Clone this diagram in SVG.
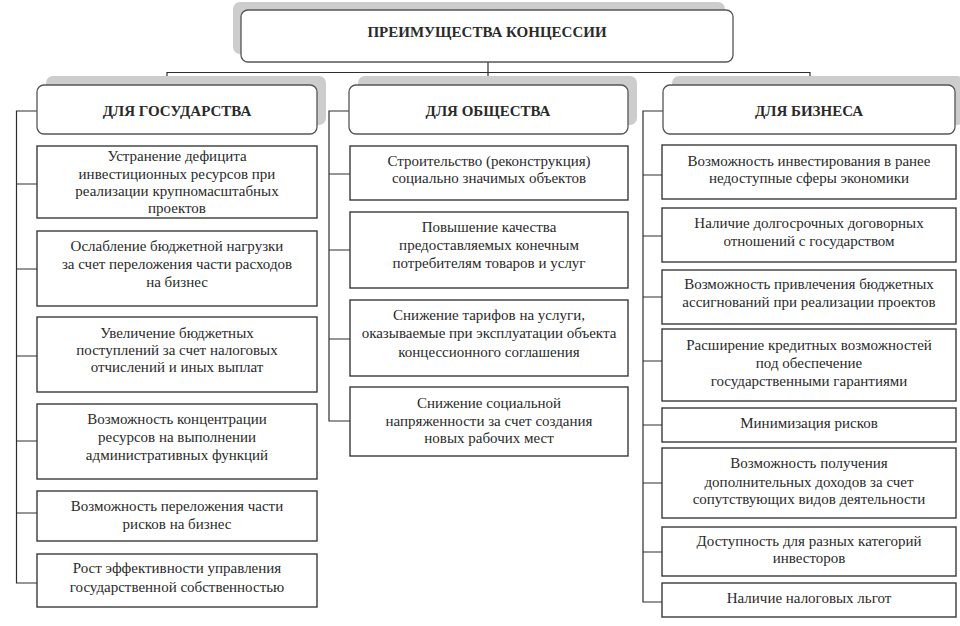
<svg xmlns="http://www.w3.org/2000/svg" width="960" height="626" viewBox="0 0 960 626">
<style>
.shadow{fill:#cdcdcd;}
.hdr{fill:#ffffff;stroke:#555555;stroke-width:1.3;}
.box{fill:#ffffff;stroke:#3a3a3a;stroke-width:1.4;}
.conn{fill:none;stroke:#2e2e2e;stroke-width:1.2;}
text{font-family:"Liberation Serif","Times New Roman",serif;fill:#2a2a2a;text-anchor:middle;}
.t{font-size:15px;}
.h{font-size:15px;font-weight:bold;}
</style>
<rect width="960" height="626" fill="#ffffff"/>
<g id="connectors" class="conn">
<path d="M488,62 V85"/>
<path d="M167,85 V72.5 H810 V85"/>
<path d="M37,111 H16.5 V583 H37 M16.5,184 H37 M16.5,269 H37 M16.5,356 H37 M16.5,441 H37 M16.5,513 H37"/>
<path d="M349,111 H329 V421 H350 M329,174 H350 M329,250 H350 M329,339 H350"/>
<path d="M663,111 H643 V602 H662 M643,175 H662 M643,236 H662 M643,297 H662 M643,361 H662 M643,425 H662 M643,483 H662 M643,552 H662"/>
</g>
<g id="root">
<rect class="shadow" x="233" y="2" width="492" height="52" rx="7"/>
<rect class="hdr" x="241" y="10" width="492" height="52" rx="7"/>
<text class="h" x="487" y="37">ПРЕИМУЩЕСТВА КОНЦЕССИИ</text>
</g>
<g id="h_state">
<rect class="shadow" x="46" y="76" width="280" height="49" rx="7"/>
<rect class="hdr" x="37" y="85" width="280" height="49" rx="7"/>
<text class="h" x="177" y="116">ДЛЯ ГОСУДАРСТВА</text>
</g>
<g id="h_society">
<rect class="shadow" x="358" y="76" width="279" height="49" rx="7"/>
<rect class="hdr" x="349" y="85" width="279" height="49" rx="7"/>
<text class="h" x="488" y="116">ДЛЯ ОБЩЕСТВА</text>
</g>
<g id="h_business">
<rect class="shadow" x="672" y="76" width="292" height="49" rx="7"/>
<rect class="hdr" x="663" y="85" width="292" height="49" rx="7"/>
<text class="h" x="809" y="116">ДЛЯ БИЗНЕСА</text>
</g>
<g id="s1"><rect class="box" x="37" y="146" width="280" height="72"/>
<text class="t" x="177" y="161">Устранение дефицита</text><text class="t" x="177" y="178.5">инвестиционных ресурсов при</text><text class="t" x="177" y="196">реализации крупномасштабных</text><text class="t" x="177" y="213">проектов</text></g>
<g id="s2"><rect class="box" x="37" y="231" width="280" height="75"/>
<text class="t" x="177" y="251">Ослабление бюджетной нагрузки</text><text class="t" x="177" y="269">за счет переложения части расходов</text><text class="t" x="177" y="287">на бизнес</text></g>
<g id="s3"><rect class="box" x="37" y="317" width="280" height="75"/>
<text class="t" x="177" y="338">Увеличение бюджетных</text><text class="t" x="177" y="355">поступлений за счет налоговых</text><text class="t" x="177" y="372">отчислений и иных выплат</text></g>
<g id="s4"><rect class="box" x="37" y="404" width="280" height="75"/>
<text class="t" x="177" y="424">Возможность концентрации</text><text class="t" x="177" y="442">ресурсов на выполнении</text><text class="t" x="177" y="460">административных функций</text></g>
<g id="s5"><rect class="box" x="37" y="491" width="280" height="50"/>
<text class="t" x="177" y="511">Возможность переложения части</text><text class="t" x="177" y="529">рисков на бизнес</text></g>
<g id="s6"><rect class="box" x="37" y="554" width="280" height="53"/>
<text class="t" x="177" y="573">Рост эффективности управления</text><text class="t" x="177" y="592">государственной собственностью</text></g>
<g id="o1"><rect class="box" x="350" y="146" width="278" height="54"/>
<text class="t" x="489" y="166">Строительство (реконструкция)</text><text class="t" x="489" y="183">социально значимых объектов</text></g>
<g id="o2"><rect class="box" x="350" y="212" width="278" height="76"/>
<text class="t" x="489" y="232">Повышение качества</text><text class="t" x="489" y="250">предоставляемых конечным</text><text class="t" x="489" y="268">потребителям товаров и услуг</text></g>
<g id="o3"><rect class="box" x="350" y="300" width="278" height="76"/>
<text class="t" x="489" y="320">Снижение тарифов на услуги,</text><text class="t" x="489" y="338">оказываемые при эксплуатации объекта</text><text class="t" x="489" y="357">концессионного соглашения</text></g>
<g id="o4"><rect class="box" x="350" y="387" width="278" height="69"/>
<text class="t" x="489" y="408">Снижение социальной</text><text class="t" x="489" y="426">напряженности за счет создания</text><text class="t" x="489" y="443">новых рабочих мест</text></g>
<g id="b1"><rect class="box" x="662" y="145" width="294" height="54"/>
<text class="t" x="809" y="166">Возможность инвестирования в ранее</text><text class="t" x="809" y="183">недоступные сферы экономики</text></g>
<g id="b2"><rect class="box" x="662" y="208" width="294" height="54"/>
<text class="t" x="809" y="228">Наличие долгосрочных договорных</text><text class="t" x="809" y="246">отношений с государством</text></g>
<g id="b3"><rect class="box" x="662" y="270" width="294" height="54"/>
<text class="t" x="809" y="289">Возможность привлечения бюджетных</text><text class="t" x="809" y="307">ассигнований при реализации проектов</text></g>
<g id="b4"><rect class="box" x="662" y="329" width="294" height="72"/>
<text class="t" x="809" y="350">Расширение кредитных возможностей</text><text class="t" x="809" y="368">под обеспечение</text><text class="t" x="809" y="386">государственными гарантиями</text></g>
<g id="b5"><rect class="box" x="662" y="408" width="294" height="34"/>
<text class="t" x="809" y="428">Минимизация рисков</text></g>
<g id="b6"><rect class="box" x="662" y="448" width="294" height="70"/>
<text class="t" x="809" y="468">Возможность получения</text><text class="t" x="809" y="487">дополнительных доходов за счет</text><text class="t" x="809" y="504">сопутствующих видов деятельности</text></g>
<g id="b7"><rect class="box" x="662" y="527" width="294" height="49"/>
<text class="t" x="809" y="546">Доступность для разных категорий</text><text class="t" x="809" y="563">инвесторов</text></g>
<g id="b8"><rect class="box" x="662" y="583" width="294" height="34"/>
<text class="t" x="809" y="603">Наличие налоговых льгот</text></g>
</svg>
